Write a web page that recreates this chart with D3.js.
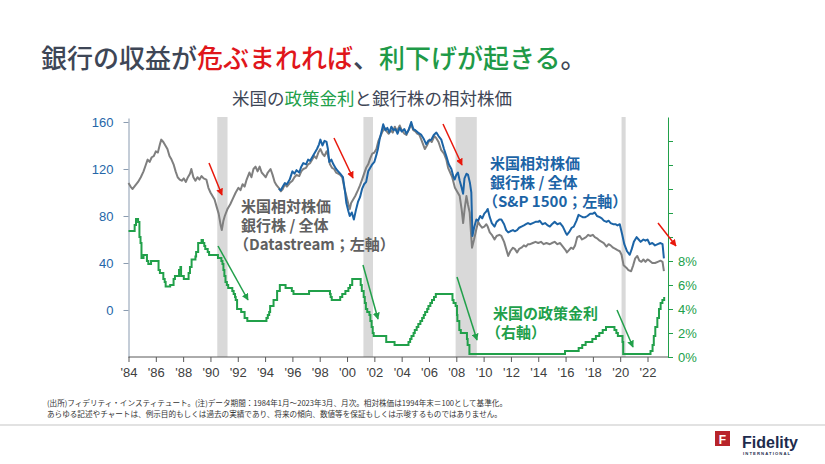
<!DOCTYPE html>
<html><head><meta charset="utf-8">
<script src="https://cdn.jsdelivr.net/npm/d3@7"></script>
<style>
html,body{margin:0;padding:0;background:#fff;}
svg{display:block;font-family:"Noto Sans CJK JP","Noto Sans",sans-serif;}
.ax text{font-family:"Liberation Sans",Arial,sans-serif;font-size:13px;}
</style></head>
<body><svg id="c" width="825" height="464"></svg>
<script>
// ---------------- data ----------------
const xTickYears = d3.range(1984, 2023, 2);
const leftTicks = [0, 40, 80, 120, 160];
const rightTicks = [0, 2, 4, 6, 8, 10, 12, 14, 16, 18];
const rightLabelled = [0, 2, 4, 6, 8];
const recessions = [[1990.5, 1991.25], [2001.2, 2001.9], [2007.95, 2009.5], [2020.1, 2020.4]];

// Datastream relative price: banks / total market (1994 end = 100)
const datastreamSeries = [
[1984.0,108],[1984.15,105],[1984.3,103],[1984.5,106],[1984.7,109],[1984.9,113],[1985.1,118],[1985.25,123],
[1985.4,128],[1985.55,126],[1985.7,130],[1985.85,131],[1986.0,135],[1986.15,134],[1986.3,141],[1986.4,145],
[1986.55,143],[1986.7,140],[1986.85,137],[1987.0,131],[1987.15,128],[1987.3,124],[1987.45,118],[1987.6,113],
[1987.75,111],[1987.9,110],[1988.05,112],[1988.2,109],[1988.35,113],[1988.5,116],[1988.6,120],[1988.75,113],
[1988.9,110],[1989.05,113],[1989.2,111],[1989.35,114],[1989.5,112],[1989.7,111],[1989.85,104],[1990.0,100],
[1990.15,97],[1990.3,94],[1990.45,88],[1990.6,82],[1990.75,72],[1990.83,68],[1990.95,76],[1991.05,80],
[1991.25,86],[1991.45,90],[1991.65,95],[1991.85,100],[1992.05,104],[1992.2,102],[1992.35,107],[1992.5,105],
[1992.65,111],[1992.85,117],[1993.0,113],[1993.15,120],[1993.3,122],[1993.45,118],[1993.6,122],[1993.75,117],
[1993.9,115],[1994.05,113],[1994.2,117],[1994.4,120],[1994.55,115],[1994.7,109],[1994.85,106],[1995.0,104],
[1995.15,101],[1995.3,103],[1995.45,107],[1995.6,105],[1995.8,108],[1996.0,110],[1996.15,113],[1996.3,115],
[1996.5,114],[1996.65,118],[1996.8,120],[1997.0,121],[1997.15,124],[1997.3,125],[1997.45,128],[1997.6,131],
[1997.75,129],[1997.9,134],[1998.05,137],[1998.2,133],[1998.35,131],[1998.5,135],[1998.6,132],[1998.75,124],
[1998.9,121],[1999.05,120],[1999.2,117],[1999.35,116],[1999.5,115],[1999.65,113],[1999.8,104],[1999.95,97],
[2000.1,90],[2000.2,86],[2000.3,91],[2000.45,94],[2000.6,97],[2000.8,102],[2000.95,106],[2001.1,111],
[2001.25,116],[2001.4,121],[2001.55,124],[2001.7,129],[2001.85,133],[2002.0,134],[2002.15,137],[2002.3,144],
[2002.45,148],[2002.6,152],[2002.75,155],[2002.9,152],[2003.05,150],[2003.2,153],[2003.35,151],[2003.5,156],
[2003.65,152],[2003.86,157],[2004.0,153],[2004.2,150],[2004.35,149],[2004.5,153],[2004.7,158],[2004.85,153],
[2005.0,152],[2005.15,150],[2005.3,149],[2005.5,143],[2005.7,137],[2005.85,140],[2006.05,145],[2006.2,143],
[2006.4,148],[2006.55,146],[2006.7,143],[2006.9,136],[2007.1,133],[2007.27,128],[2007.4,121],[2007.55,117],
[2007.7,113],[2007.9,104],[2008.1,100],[2008.25,97],[2008.4,85],[2008.5,74],[2008.62,87],[2008.74,97],
[2008.85,90],[2008.98,83],[2009.08,65],[2009.15,53],[2009.3,60],[2009.47,69],[2009.6,75],[2009.75,72],
[2009.9,70],[2010.05,71],[2010.2,73],[2010.3,71],[2010.45,66],[2010.6,64],[2010.8,60],[2010.95,63],
[2011.15,64],[2011.3,63],[2011.5,58],[2011.65,52],[2011.8,46],[2011.95,50],[2012.15,53],[2012.28,52],
[2012.45,49],[2012.6,52],[2012.77,53],[2012.95,55],[2013.1,54],[2013.25,56],[2013.4,56],[2013.6,57],
[2013.8,58],[2014.0,57],[2014.2,58],[2014.4,56],[2014.6,57],[2014.85,56],[2015.0,57],[2015.2,58],
[2015.4,56],[2015.6,57],[2015.8,54],[2016.0,51],[2016.1,49],[2016.25,51],[2016.4,53],[2016.55,52],
[2016.7,55],[2016.85,62],[2017.04,63],[2017.2,60],[2017.35,61],[2017.5,62],[2017.65,64],[2017.8,63],
[2018.0,64],[2018.14,62],[2018.3,61],[2018.5,59],[2018.65,58],[2018.8,57],[2019.0,54],[2019.15,56],
[2019.3,55],[2019.48,53],[2019.65,52],[2019.8,51],[2019.97,50],[2020.1,47],[2020.25,38],[2020.45,36],
[2020.6,34],[2020.8,33],[2020.95,38],[2021.1,44],[2021.25,46],[2021.4,42],[2021.55,41],[2021.7,43],
[2021.85,41],[2022.0,43],[2022.15,42],[2022.35,40],[2022.55,40],[2022.75,41],[2022.95,42],[2023.1,41],[2023.2,33]
];

// S&P 1500 relative price: banks / total (1994 end = 100)
const sp1500Series = [
[1995.0,103],[1995.15,102],[1995.3,105],[1995.45,108],[1995.6,107],[1995.8,111],[1996.0,118],[1996.15,116],
[1996.3,119],[1996.5,117],[1996.65,122],[1996.8,125],[1997.0,124],[1997.15,128],[1997.3,127],[1997.5,131],
[1997.65,134],[1997.8,137],[1997.95,141],[1998.05,145],[1998.2,140],[1998.35,144],[1998.5,143],[1998.6,137],
[1998.7,126],[1998.85,128],[1999.0,124],[1999.2,120],[1999.35,118],[1999.5,116],[1999.7,113],[1999.85,101],
[1999.95,91],[2000.1,84],[2000.2,80],[2000.35,83],[2000.5,77],[2000.65,85],[2000.8,92],[2000.95,96],
[2001.1,103],[2001.25,107],[2001.4,109],[2001.55,118],[2001.7,121],[2001.85,124],[2002.0,126],[2002.15,132],
[2002.26,137],[2002.4,146],[2002.55,153],[2002.65,158],[2002.8,153],[2002.95,155],[2003.1,151],[2003.25,156],
[2003.4,153],[2003.55,154],[2003.7,150],[2003.85,155],[2004.0,152],[2004.2,154],[2004.35,150],[2004.5,153],
[2004.7,160],[2004.85,154],[2005.0,153],[2005.2,151],[2005.44,149],[2005.6,146],[2005.8,141],[2005.95,144],
[2006.17,145],[2006.35,149],[2006.54,151],[2006.7,148],[2006.9,145],[2007.1,137],[2007.27,131],[2007.45,124],
[2007.64,120],[2007.8,113],[2007.88,111],[2008.0,115],[2008.12,117],[2008.25,110],[2008.37,105],[2008.5,99],
[2008.6,112],[2008.75,116],[2008.86,115],[2009.0,108],[2009.1,100],[2009.18,63],[2009.3,70],[2009.47,77],
[2009.6,76],[2009.75,80],[2009.9,78],[2010.05,82],[2010.2,84],[2010.3,86],[2010.45,79],[2010.6,74],
[2010.8,71],[2010.95,75],[2011.15,77],[2011.3,77],[2011.5,73],[2011.65,68],[2011.8,66],[2011.95,67],
[2012.15,68],[2012.28,67],[2012.45,68],[2012.6,70],[2012.77,71],[2012.95,72],[2013.1,73],[2013.25,74],
[2013.4,73],[2013.6,74],[2013.8,75],[2014.0,75],[2014.1,76],[2014.3,73],[2014.5,74],[2014.7,72],
[2014.85,71],[2015.0,73],[2015.2,75],[2015.4,73],[2015.6,74],[2015.8,71],[2016.0,66],[2016.1,64],
[2016.3,67],[2016.45,70],[2016.6,71],[2016.8,76],[2016.95,81],[2017.1,80],[2017.25,79],[2017.45,79],
[2017.6,80],[2017.8,82],[2018.0,82],[2018.14,83],[2018.3,80],[2018.5,79],[2018.65,78],[2018.8,76],
[2019.0,75],[2019.15,76],[2019.3,74],[2019.48,73],[2019.65,73],[2019.8,72],[2019.97,73],[2020.15,64],
[2020.3,56],[2020.5,50],[2020.7,47],[2020.85,52],[2021.0,58],[2021.2,62],[2021.35,60],[2021.5,58],
[2021.7,60],[2021.85,59],[2022.0,60],[2022.17,56],[2022.35,57],[2022.55,55],[2022.75,56],[2022.95,57],
[2023.1,56],[2023.2,44]
];

// US policy rate (%), step changes
const policyRate = [
[1984.0,10.5],[1984.45,11.0],[1984.55,11.5],[1984.7,11.25],[1984.8,10.0],[1984.88,9.5],[1984.95,8.25],[1985.1,8.5],
[1985.35,8.0],[1985.45,7.75],[1985.65,8.0],[1986.2,7.25],[1986.3,7.0],[1986.55,6.5],[1986.65,6.25],[1986.72,5.875],
[1987.05,6.0],[1987.3,6.5],[1987.4,6.75],[1987.7,7.25],[1987.8,7.5],[1987.85,6.75],[1988.05,6.5],[1988.4,7.0],
[1988.5,7.5],[1988.62,8.125],[1988.9,8.375],[1988.95,8.75],[1989.1,9.5],[1989.35,9.75],[1989.45,9.5],[1989.55,9.25],
[1989.62,9.0],[1989.8,8.75],[1989.9,8.5],[1990.55,8.25],[1990.8,8.0],[1990.88,7.75],[1990.95,7.25],[1991.02,6.75],
[1991.1,6.25],[1991.2,6.0],[1991.3,5.75],[1991.6,5.5],[1991.7,5.25],[1991.8,5.0],[1991.85,4.75],[1991.95,4.0],
[1992.25,3.75],[1992.5,3.25],[1992.7,3.0],[1994.1,3.25],[1994.2,3.5],[1994.3,3.75],[1994.37,4.25],[1994.62,4.75],
[1994.88,5.5],[1995.08,6.0],[1995.5,5.75],[1995.96,5.5],[1996.08,5.25],[1997.22,5.5],[1998.75,5.25],[1998.8,5.0],
[1998.88,4.75],[1999.5,5.0],[1999.65,5.25],[1999.88,5.5],[2000.1,5.75],[2000.22,6.0],[2000.38,6.5],[2001.0,6.0],
[2001.08,5.5],[2001.22,5.0],[2001.3,4.5],[2001.38,4.0],[2001.48,3.75],[2001.64,3.5],[2001.71,3.0],[2001.8,2.5],
[2001.88,2.0],[2001.95,1.75],[2002.87,1.25],[2003.48,1.0],[2004.5,1.25],[2004.62,1.5],[2004.72,1.75],[2004.87,2.0],
[2004.96,2.25],[2005.1,2.5],[2005.22,2.75],[2005.37,3.0],[2005.5,3.25],[2005.62,3.5],[2005.72,3.75],[2005.87,4.0],
[2005.96,4.25],[2006.1,4.5],[2006.22,4.75],[2006.37,5.0],[2006.5,5.25],[2007.72,4.75],[2007.8,4.5],[2007.95,4.25],
[2008.05,3.5],[2008.08,3.0],[2008.22,2.25],[2008.33,2.0],[2008.78,1.5],[2008.83,1.0],[2008.96,0.25],[2015.96,0.5],
[2016.96,0.75],[2017.22,1.0],[2017.47,1.25],[2017.96,1.5],[2018.22,1.75],[2018.47,2.0],[2018.72,2.25],[2018.96,2.5],
[2019.58,2.25],[2019.72,2.0],[2019.83,1.75],[2020.17,1.25],[2020.22,0.25],[2022.22,0.5],[2022.37,1.0],[2022.46,1.75],
[2022.57,2.5],[2022.72,3.25],[2022.84,4.0],[2022.96,4.5],[2023.09,4.75],[2023.22,5.0]
];

// ---------------- drawing ----------------
const svg = d3.select("#c");
const GRAY = "#7f7f7f", BLUE = "#1c64a6", GREEN = "#21a04a", RED = "#e8180c", DARK = "#3e4656";

const x = d3.scaleLinear().domain([1984, 2023.5]).range([128.5, 668]);
const yL = d3.scaleLinear().domain([-40, 163.4]).range([357, 118]);
const yR = d3.scaleLinear().domain([0, 20]).range([357, 117]);

// title
const title = svg.append("text").attr("x", 41).attr("y", 68)
  .style("font-size", "26px").style("font-weight", "500");
[["銀行の収益が", DARK], ["危ぶまれれば", "#e0161b"], ["、", DARK], ["利下げが起きる", "#1f9a48"], ["。", DARK]]
  .forEach(([t, c]) => title.append("tspan").attr("fill", c).text(t));

// subtitle
const sub = svg.append("text").attr("x", 372).attr("y", 105).attr("text-anchor", "middle")
  .style("font-size", "17.5px").style("font-weight", "400");
[["米国の", DARK], ["政策金利", GREEN], ["と銀行株の相対株価", DARK]]
  .forEach(([t, c]) => sub.append("tspan").attr("fill", c).text(t));

// recession bands
svg.append("g").selectAll("rect").data(recessions).join("rect")
  .attr("x", d => x(d[0])).attr("width", d => x(d[1]) - x(d[0]))
  .attr("y", 117).attr("height", 357 - 117).attr("fill", "#d9d9d9");

// axes
const gL = svg.append("g").attr("class", "ax").attr("transform", "translate(128.5,0)")
  .call(d3.axisLeft(yL).tickValues(leftTicks).tickSize(5).tickPadding(10).tickSizeOuter(0));
gL.selectAll("path,line").attr("stroke", "#8a9bb0");
gL.selectAll("text").attr("fill", "#2566a8");

const gR = svg.append("g").attr("class", "ax").attr("transform", "translate(668,0)")
  .call(d3.axisRight(yR).tickValues(rightTicks).tickSize(5).tickPadding(5).tickSizeOuter(0)
    .tickFormat(d => rightLabelled.includes(d) ? d + "%" : ""));
gR.selectAll("path,line").attr("stroke", GREEN);
gR.selectAll("text").attr("fill", GREEN);

const gX = svg.append("g").attr("class", "ax").attr("transform", "translate(0,357)")
  .call(d3.axisBottom(x).tickValues(xTickYears).tickSize(5).tickPadding(6).tickSizeOuter(0)
    .tickFormat(d => "'" + String(d).slice(2)));
gX.select("path").attr("d", `M${x(1984)},0H${x(2023.5)}`);
gX.selectAll("path,line").attr("stroke", "#595959");
gX.selectAll("text").attr("fill", "#404040");

// lines
const lineL = d3.line().x(d => x(d[0])).y(d => yL(d[1]));
const lineR = d3.line().x(d => x(d[0])).y(d => yR(d[1])).curve(d3.curveStepAfter);
svg.append("path").datum(policyRate).attr("d", lineR).attr("fill", "none")
  .attr("stroke", GREEN).attr("stroke-width", 2);
svg.append("path").datum(datastreamSeries).attr("d", lineL).attr("fill", "none")
  .attr("stroke", GRAY).attr("stroke-width", 2).attr("stroke-linejoin", "round");
svg.append("path").datum(sp1500Series).attr("d", lineL).attr("fill", "none")
  .attr("stroke", BLUE).attr("stroke-width", 2).attr("stroke-linejoin", "round");

// arrows
const defs = svg.append("defs");
[["r", RED], ["g", GREEN]].forEach(([id, c]) => {
  defs.append("marker").attr("id", "ah" + id).attr("viewBox", "0 0 10 10")
    .attr("refX", 9).attr("refY", 5).attr("markerWidth", 7).attr("markerHeight", 7)
    .attr("markerUnits", "userSpaceOnUse").attr("orient", "auto")
    .append("path").attr("d", "M0,0L10,5L0,10z").attr("fill", c);
});
const redArrows = [[209,163,222,195],[334,138,353,178],[443,124,462,165],[658,223,676,246]];
const greenArrows = [[218,246,248,300],[363,265,378,319],[457,277,477,340],[617,310,633,347]];
svg.append("g").selectAll("line").data(redArrows).join("line")
  .attr("x1", d => d[0]).attr("y1", d => d[1]).attr("x2", d => d[2]).attr("y2", d => d[3])
  .attr("stroke", RED).attr("stroke-width", 1.5).attr("marker-end", "url(#ahr)");
svg.append("g").selectAll("line").data(greenArrows).join("line")
  .attr("x1", d => d[0]).attr("y1", d => d[1]).attr("x2", d => d[2]).attr("y2", d => d[3])
  .attr("stroke", GREEN).attr("stroke-width", 1.5).attr("marker-end", "url(#ahg)");

// annotations (one text element per line; full-width parenthesis lines nudged left)
function block(lines, x0, y0, dy, color) {
  const g = svg.append("g").attr("fill", color).style("font-size", "15px").style("font-weight", "700");
  lines.forEach((s, i) => g.append("text")
    .attr("x", s.startsWith("（") ? x0 - 7 : x0).attr("y", y0 + i * dy).text(s));
}
block(["米国相対株価", "銀行株 / 全体", "（Datastream；左軸）"], 241, 212, 19, "#606060");
block(["米国相対株価", "銀行株 / 全体", "（S&P 1500；左軸）"], 490, 169, 19, BLUE);
block(["米国の政策金利", "（右軸）"], 493, 319, 19, GREEN);

// footnote
const fn = svg.append("g").attr("fill", "#333").style("font-size", "7.6px");
fn.append("text").attr("x", 47).attr("y", 406)
  .text("(出所)フィデリティ・インスティテュート。(注)データ期間：1984年1月～2023年3月、月次。相対株価は1994年末＝100として基準化。");
fn.append("text").attr("x", 47).attr("y", 417)
  .text("あらゆる記述やチャートは、例示目的もしくは過去の実績であり、将来の傾向、数値等を保証もしくは示唆するものではありません。");

// separator
svg.append("line").attr("x1", 0).attr("x2", 825).attr("y1", 425).attr("y2", 425)
  .attr("stroke", "#d9d9d9").attr("stroke-width", 1.5);

// logo
const lg = svg.append("g");
lg.append("rect").attr("x", 715).attr("y", 431).attr("width", 15).attr("height", 15).attr("fill", "#b8242a");
lg.append("text").attr("x", 722.5).attr("y", 443.5).attr("text-anchor", "middle").attr("fill", "#fff")
  .style("font-family", "Liberation Sans, Arial").style("font-weight", "700").style("font-size", "12px").text("F");
lg.append("text").attr("x", 742).attr("y", 448).attr("fill", "#1d2b4d")
  .style("font-family", "Liberation Sans, Arial").style("font-weight", "700").style("font-size", "16px").text("Fidelity");
lg.append("text").attr("x", 743).attr("y", 454.5).attr("fill", "#1d2b4d")
  .style("font-family", "Liberation Sans, Arial").style("font-weight", "700").style("font-size", "4.2px")
  .style("letter-spacing", "1.1px").text("INTERNATIONAL");
</script></body></html>
